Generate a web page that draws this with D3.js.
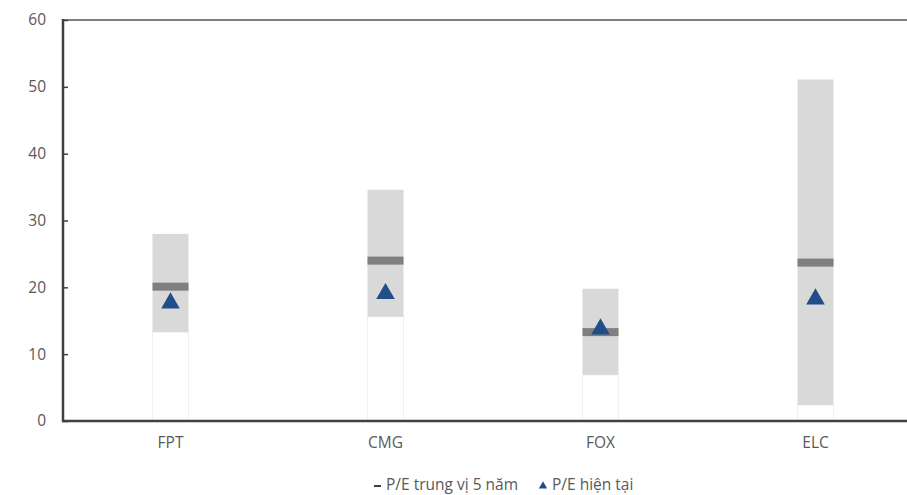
<!DOCTYPE html>
<html><head><meta charset="utf-8">
<script src="https://cdn.jsdelivr.net/npm/d3@7"></script>
<style>
html,body{margin:0;padding:0;background:#fff;}
svg{display:block;font-family:"Open Sans",Lato,sans-serif;}
</style></head>
<body>
<svg id="chart" width="907" height="495"></svg>
<script>
const categories = ["FPT", "CMG", "FOX", "ELC"];
const peMin = [13.3, 15.6, 6.9, 2.4];
const peMax = [28.0, 34.6, 19.8, 51.1];
const peMedian = [20.1, 24.0, 13.3, 23.7];
const peCurrent = [17.8, 19.2, 13.9, 18.4];
const yTicks = [0, 10, 20, 30, 40, 50, 60];
const legendLabels = ["P/E trung vị 5 năm", "P/E hiện tại"];

(function () {
const svg = d3.select("#chart");
const mLeft = 63, mTop = 20, mBottom = 421, mRight = 923;
const x = d3.scaleBand().domain(categories).range([mLeft, mRight]).paddingInner(0).paddingOuter(0);
const y = d3.scaleLinear().domain([0, 60]).range([mBottom, mTop]);
const bw = 36;
const textColor = "#595959";
const fs = 15.5;

const data = categories.map((c, i) => ({c, min: peMin[i], max: peMax[i], med: peMedian[i], cur: peCurrent[i]}));
const cx = d => x(d.c) + x.bandwidth() / 2;

// top border
svg.append("line").attr("x1", mLeft).attr("x2", 907).attr("y1", y(60)).attr("y2", y(60))
  .attr("stroke", "#7f7f7f").attr("stroke-width", 2);

// white base bars
svg.selectAll(".base").data(data).join("rect")
  .attr("x", d => cx(d) - bw / 2)
  .attr("width", bw)
  .attr("y", d => y(d.min))
  .attr("height", d => y(0) - y(d.min))
  .attr("fill", "#fff").attr("stroke", "#f0f0f0").attr("stroke-width", 1);

// range bars
svg.selectAll(".range").data(data).join("rect")
  .attr("x", d => cx(d) - bw / 2)
  .attr("width", bw)
  .attr("y", d => y(d.max))
  .attr("height", d => y(d.min) - y(d.max))
  .attr("fill", "#d9d9d9");

// median markers
svg.selectAll(".med").data(data).join("rect")
  .attr("x", d => cx(d) - bw / 2)
  .attr("width", bw)
  .attr("y", d => y(d.med) - 4)
  .attr("height", 8)
  .attr("fill", "#7f7f7f");

// current triangles
const tri = d3.symbol().type(d3.symbolTriangle).size(150);
svg.selectAll(".cur").data(data).join("path")
  .attr("d", tri)
  .attr("transform", d => `translate(${cx(d)},${y(d.cur) + 1})`)
  .attr("fill", "#1f4e89");

// y axis
const yAxis = d3.axisLeft(y).tickValues(yTicks).tickSize(0).tickPadding(17);
const gy = svg.append("g").attr("transform", `translate(${mLeft},0)`).call(yAxis);
gy.select(".domain").remove();
gy.selectAll("text").attr("fill", textColor).attr("font-size", fs)
  .attr("font-family", "'Open Sans', sans-serif");
gy.selectAll(".tick").append("line").attr("x1", 0).attr("x2", 5).attr("stroke", "#404040").attr("stroke-width", 1.5);
svg.append("line").attr("x1", mLeft).attr("x2", mLeft).attr("y1", y(60) - 1).attr("y2", y(0) + 1)
  .attr("stroke", "#404040").attr("stroke-width", 2.5);

// x axis
const xAxis = d3.axisBottom(x).tickSize(0).tickPadding(16);
const gx = svg.append("g").attr("transform", `translate(0,${mBottom})`).call(xAxis);
gx.select(".domain").remove();
gx.selectAll("text").attr("fill", textColor).attr("font-size", fs)
  .attr("font-family", "'Open Sans', sans-serif");
svg.append("line").attr("x1", mLeft - 1).attr("x2", 907).attr("y1", mBottom).attr("y2", mBottom)
  .attr("stroke", "#404040").attr("stroke-width", 2.5);

// legend
const lg = svg.append("g").attr("font-size", fs).attr("fill", textColor);
lg.append("rect").attr("x", 374).attr("y", 485).attr("width", 7).attr("height", 2).attr("fill", "#404040");
lg.append("text").attr("x", 386).attr("y", 490).text(legendLabels[0]);
lg.append("path").attr("d", d3.symbol().type(d3.symbolTriangle).size(30))
  .attr("transform", "translate(543,486)").attr("fill", "#1f4e89");
lg.append("text").attr("x", 552).attr("y", 490).text(legendLabels[1]);
})();
</script>
</body></html>
